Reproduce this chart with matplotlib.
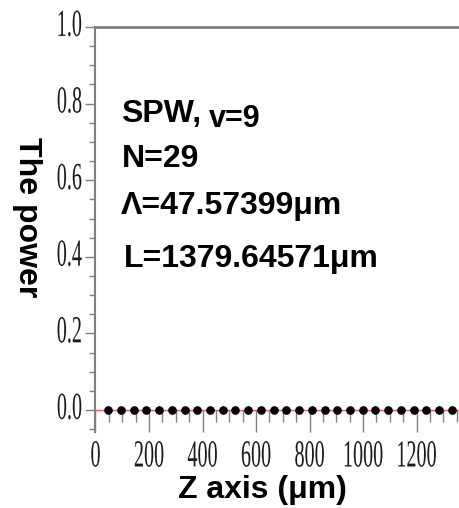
import matplotlib
matplotlib.use("Agg")
import matplotlib.pyplot as plt
from matplotlib.ticker import MultipleLocator, FixedLocator
from matplotlib.patheffects import AbstractPathEffect
from matplotlib.transforms import Affine2D

# data
n_periods = 29
period_um = 47.57399
z_positions = [period_um * k for k in range(1, n_periods + 1)]
power = [0.0] * n_periods
xticks = [0, 200, 400, 600, 800, 1000, 1200]
yticks = [0.0, 0.2, 0.4, 0.6, 0.8, 1.0]


class Stretch(AbstractPathEffect):
    """Draw text taller (narrow, condensed look) about its own vertical centre."""
    def __init__(self, sy=1.9, dy=0.0):
        super().__init__()
        self.sy = sy
        self.dy = dy

    def draw_path(self, renderer, gc, tpath, affine, rgbFace=None):
        ext = tpath.get_extents(affine)
        cy = 0.5 * (ext.y0 + ext.y1)
        new = affine + Affine2D().translate(0, -cy).scale(1, self.sy).translate(0, cy + self.dy)
        renderer.draw_path(gc, tpath, new, rgbFace)


fig = plt.figure(figsize=(4.6, 5.08), dpi=100)
ax = fig.add_axes([95.5/460, 1-432/508, 374.5/460, (432-27)/508])

ax.axhline(0, color='#e06060', lw=1.0, zorder=2)
ax.plot(z_positions, power, 'o', color='black', ms=5.2, zorder=3, clip_on=False)

ax.set_xlim(0, 1400)
ax.set_ylim(-0.0574, 1.0)

gray = '#808080'
ax.spines['right'].set_visible(False)
ax.spines['bottom'].set_position(('data', 0))
ax.spines['bottom'].set_visible(False)
ax.spines['left'].set_color(gray)
ax.spines['left'].set_linewidth(1.5)
ax.spines['top'].set_color(gray)
ax.spines['top'].set_linewidth(2.0)

ax.xaxis.set_major_locator(FixedLocator(xticks))
ax.xaxis.set_minor_locator(MultipleLocator(50))
ax.yaxis.set_major_locator(FixedLocator(yticks))
ax.yaxis.set_minor_locator(MultipleLocator(0.05))
ax.set_xticklabels([str(v) for v in xticks])
ax.set_yticklabels([f"{v:.1f}" for v in yticks])

ax.tick_params(axis='x', which='major', direction='out', length=15.8, width=1.0, color=gray, pad=10.5)
ax.tick_params(axis='x', which='minor', direction='out', length=8.6, width=1.0, color=gray)
ax.tick_params(axis='y', which='major', direction='out', length=7.2, width=1.0, color=gray, pad=2.5)
ax.tick_params(axis='y', which='minor', direction='out', length=4.3, width=1.0, color=gray)
for lab in ax.get_xticklabels():
    lab.set_fontfamily('Liberation Serif')
    lab.set_fontsize(14.5)
    lab.set_color('#1a1a1a')
    lab.set_path_effects([Stretch(1.9, 0.0)])
for lab in ax.get_yticklabels():
    lab.set_fontfamily('Liberation Serif')
    lab.set_fontsize(14.5)
    lab.set_color('#1a1a1a')
    lab.set_path_effects([Stretch(1.9, 4.0)])

sans = 'Liberation Sans'
fig.text(27/460, 1-217/508, 'The power', rotation=-90, ha='center', va='center',
         family=sans, weight='bold', fontsize=23)
fig.text(262/460, 1-498/508, 'Z axis (\u03bcm)', ha='center', va='baseline',
         family=sans, weight='bold', fontsize=23)

fig.text(121/460, 1-122/508, 'SPW,', ha='left', va='baseline', family=sans, weight='bold', fontsize=23)
fig.text(209/460, 1-127/508, 'v=9', ha='left', va='baseline', family=sans, weight='bold', fontsize=22)
fig.text(122/460, 1-167/508, 'N=29', ha='left', va='baseline', family=sans, weight='bold', fontsize=23)
fig.text(121/460, 1-214/508, '\u039b=47.57399\u03bcm', ha='left', va='baseline', family=sans, weight='bold', fontsize=23)
fig.text(124/460, 1-267/508, 'L=1379.64571\u03bcm', ha='left', va='baseline', family=sans, weight='bold', fontsize=23)

fig.savefig('out.png', dpi=100)
